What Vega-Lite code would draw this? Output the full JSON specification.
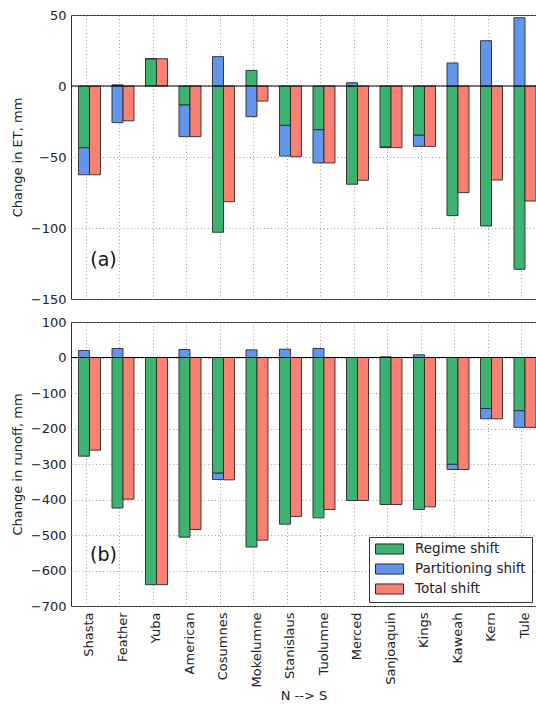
{
  "$schema": "https://vega.github.io/schema/vega-lite/v6.json",
  "padding": {"left": 10, "top": 8, "right": 0, "bottom": 0},
  "config": {
    "font": "DejaVu Sans",
    "view": {"stroke": "#333", "strokeWidth": 1},
    "axis": {
      "labelFont": "DejaVu Sans",
      "labelFontSize": 13,
      "labelColor": "#222",
      "titleFont": "DejaVu Sans",
      "titleFontSize": 13,
      "titleFontWeight": "normal",
      "titleColor": "#222",
      "gridColor": "#888",
      "gridDash": [1, 2.5],
      "gridWidth": 0.8,
      "domain": false,
      "ticks": false,
      "labelFlush": false,
      "labelOverlap": false
    },
    "concat": {"spacing": 8}
  },
  "datasets": {
    "shifts": [
      {"panel": "ET", "basin": "Shasta", "series": "Regime shift", "group": "decomposition", "value": -43.5},
      {"panel": "ET", "basin": "Shasta", "series": "Partitioning shift", "group": "decomposition", "value": -19},
      {"panel": "ET", "basin": "Shasta", "series": "Total shift", "group": "total", "value": -62.5},
      {"panel": "ET", "basin": "Feather", "series": "Regime shift", "group": "decomposition", "value": 0.8},
      {"panel": "ET", "basin": "Feather", "series": "Partitioning shift", "group": "decomposition", "value": -25.8},
      {"panel": "ET", "basin": "Feather", "series": "Total shift", "group": "total", "value": -24.5},
      {"panel": "ET", "basin": "Yuba", "series": "Regime shift", "group": "decomposition", "value": 19.2},
      {"panel": "ET", "basin": "Yuba", "series": "Partitioning shift", "group": "decomposition", "value": 0},
      {"panel": "ET", "basin": "Yuba", "series": "Total shift", "group": "total", "value": 19.2},
      {"panel": "ET", "basin": "American", "series": "Regime shift", "group": "decomposition", "value": -13.4},
      {"panel": "ET", "basin": "American", "series": "Partitioning shift", "group": "decomposition", "value": -22.3},
      {"panel": "ET", "basin": "American", "series": "Total shift", "group": "total", "value": -35.7},
      {"panel": "ET", "basin": "Cosumnes", "series": "Regime shift", "group": "decomposition", "value": -103},
      {"panel": "ET", "basin": "Cosumnes", "series": "Partitioning shift", "group": "decomposition", "value": 20.7},
      {"panel": "ET", "basin": "Cosumnes", "series": "Total shift", "group": "total", "value": -81.5},
      {"panel": "ET", "basin": "Mokelumne", "series": "Regime shift", "group": "decomposition", "value": 11},
      {"panel": "ET", "basin": "Mokelumne", "series": "Partitioning shift", "group": "decomposition", "value": -21.6},
      {"panel": "ET", "basin": "Mokelumne", "series": "Total shift", "group": "total", "value": -10.6},
      {"panel": "ET", "basin": "Stanislaus", "series": "Regime shift", "group": "decomposition", "value": -27.7},
      {"panel": "ET", "basin": "Stanislaus", "series": "Partitioning shift", "group": "decomposition", "value": -21.6},
      {"panel": "ET", "basin": "Stanislaus", "series": "Total shift", "group": "total", "value": -49.8},
      {"panel": "ET", "basin": "Tuolumne", "series": "Regime shift", "group": "decomposition", "value": -30.8},
      {"panel": "ET", "basin": "Tuolumne", "series": "Partitioning shift", "group": "decomposition", "value": -23.4},
      {"panel": "ET", "basin": "Tuolumne", "series": "Total shift", "group": "total", "value": -54.2},
      {"panel": "ET", "basin": "Merced", "series": "Regime shift", "group": "decomposition", "value": -69.2},
      {"panel": "ET", "basin": "Merced", "series": "Partitioning shift", "group": "decomposition", "value": 2.3},
      {"panel": "ET", "basin": "Merced", "series": "Total shift", "group": "total", "value": -66.4},
      {"panel": "ET", "basin": "Sanjoaquin", "series": "Regime shift", "group": "decomposition", "value": -43},
      {"panel": "ET", "basin": "Sanjoaquin", "series": "Partitioning shift", "group": "decomposition", "value": -0.4},
      {"panel": "ET", "basin": "Sanjoaquin", "series": "Total shift", "group": "total", "value": -43.4},
      {"panel": "ET", "basin": "Kings", "series": "Regime shift", "group": "decomposition", "value": -34.7},
      {"panel": "ET", "basin": "Kings", "series": "Partitioning shift", "group": "decomposition", "value": -7.8},
      {"panel": "ET", "basin": "Kings", "series": "Total shift", "group": "total", "value": -42.5},
      {"panel": "ET", "basin": "Kaweah", "series": "Regime shift", "group": "decomposition", "value": -91.3},
      {"panel": "ET", "basin": "Kaweah", "series": "Partitioning shift", "group": "decomposition", "value": 16.2},
      {"panel": "ET", "basin": "Kaweah", "series": "Total shift", "group": "total", "value": -75.1},
      {"panel": "ET", "basin": "Kern", "series": "Regime shift", "group": "decomposition", "value": -98.6},
      {"panel": "ET", "basin": "Kern", "series": "Partitioning shift", "group": "decomposition", "value": 31.9},
      {"panel": "ET", "basin": "Kern", "series": "Total shift", "group": "total", "value": -66.2},
      {"panel": "ET", "basin": "Tule", "series": "Regime shift", "group": "decomposition", "value": -129.1},
      {"panel": "ET", "basin": "Tule", "series": "Partitioning shift", "group": "decomposition", "value": 48.1},
      {"panel": "ET", "basin": "Tule", "series": "Total shift", "group": "total", "value": -81},
      {"panel": "Runoff", "basin": "Shasta", "series": "Regime shift", "group": "decomposition", "value": -278},
      {"panel": "Runoff", "basin": "Shasta", "series": "Partitioning shift", "group": "decomposition", "value": 19.7},
      {"panel": "Runoff", "basin": "Shasta", "series": "Total shift", "group": "total", "value": -261},
      {"panel": "Runoff", "basin": "Feather", "series": "Regime shift", "group": "decomposition", "value": -424},
      {"panel": "Runoff", "basin": "Feather", "series": "Partitioning shift", "group": "decomposition", "value": 25.4},
      {"panel": "Runoff", "basin": "Feather", "series": "Total shift", "group": "total", "value": -399},
      {"panel": "Runoff", "basin": "Yuba", "series": "Regime shift", "group": "decomposition", "value": -640},
      {"panel": "Runoff", "basin": "Yuba", "series": "Partitioning shift", "group": "decomposition", "value": 0},
      {"panel": "Runoff", "basin": "Yuba", "series": "Total shift", "group": "total", "value": -640},
      {"panel": "Runoff", "basin": "American", "series": "Regime shift", "group": "decomposition", "value": -506},
      {"panel": "Runoff", "basin": "American", "series": "Partitioning shift", "group": "decomposition", "value": 22.5},
      {"panel": "Runoff", "basin": "American", "series": "Total shift", "group": "total", "value": -484.5},
      {"panel": "Runoff", "basin": "Cosumnes", "series": "Regime shift", "group": "decomposition", "value": -326},
      {"panel": "Runoff", "basin": "Cosumnes", "series": "Partitioning shift", "group": "decomposition", "value": -17.8},
      {"panel": "Runoff", "basin": "Cosumnes", "series": "Total shift", "group": "total", "value": -344.6},
      {"panel": "Runoff", "basin": "Mokelumne", "series": "Regime shift", "group": "decomposition", "value": -534},
      {"panel": "Runoff", "basin": "Mokelumne", "series": "Partitioning shift", "group": "decomposition", "value": 21.6},
      {"panel": "Runoff", "basin": "Mokelumne", "series": "Total shift", "group": "total", "value": -514.5},
      {"panel": "Runoff", "basin": "Stanislaus", "series": "Regime shift", "group": "decomposition", "value": -469.5},
      {"panel": "Runoff", "basin": "Stanislaus", "series": "Partitioning shift", "group": "decomposition", "value": 23.5},
      {"panel": "Runoff", "basin": "Stanislaus", "series": "Total shift", "group": "total", "value": -448},
      {"panel": "Runoff", "basin": "Tuolumne", "series": "Regime shift", "group": "decomposition", "value": -451.6},
      {"panel": "Runoff", "basin": "Tuolumne", "series": "Partitioning shift", "group": "decomposition", "value": 25.4},
      {"panel": "Runoff", "basin": "Tuolumne", "series": "Total shift", "group": "total", "value": -428},
      {"panel": "Runoff", "basin": "Merced", "series": "Regime shift", "group": "decomposition", "value": -402.8},
      {"panel": "Runoff", "basin": "Merced", "series": "Partitioning shift", "group": "decomposition", "value": 0},
      {"panel": "Runoff", "basin": "Merced", "series": "Total shift", "group": "total", "value": -402.8},
      {"panel": "Runoff", "basin": "Sanjoaquin", "series": "Regime shift", "group": "decomposition", "value": -414},
      {"panel": "Runoff", "basin": "Sanjoaquin", "series": "Partitioning shift", "group": "decomposition", "value": 2},
      {"panel": "Runoff", "basin": "Sanjoaquin", "series": "Total shift", "group": "total", "value": -414},
      {"panel": "Runoff", "basin": "Kings", "series": "Regime shift", "group": "decomposition", "value": -428},
      {"panel": "Runoff", "basin": "Kings", "series": "Partitioning shift", "group": "decomposition", "value": 7.5},
      {"panel": "Runoff", "basin": "Kings", "series": "Total shift", "group": "total", "value": -420.7},
      {"panel": "Runoff", "basin": "Kaweah", "series": "Regime shift", "group": "decomposition", "value": -301},
      {"panel": "Runoff", "basin": "Kaweah", "series": "Partitioning shift", "group": "decomposition", "value": -14.5},
      {"panel": "Runoff", "basin": "Kaweah", "series": "Total shift", "group": "total", "value": -315.5},
      {"panel": "Runoff", "basin": "Kern", "series": "Regime shift", "group": "decomposition", "value": -143.7},
      {"panel": "Runoff", "basin": "Kern", "series": "Partitioning shift", "group": "decomposition", "value": -29},
      {"panel": "Runoff", "basin": "Kern", "series": "Total shift", "group": "total", "value": -172.8},
      {"panel": "Runoff", "basin": "Tule", "series": "Regime shift", "group": "decomposition", "value": -150},
      {"panel": "Runoff", "basin": "Tule", "series": "Partitioning shift", "group": "decomposition", "value": -47},
      {"panel": "Runoff", "basin": "Tule", "series": "Total shift", "group": "total", "value": -197}
    ]
  },
  "resolve": {"scale": {"color": "independent"}, "legend": {"color": "independent"}},
  "vconcat": [
    {
      "width": 465,
      "height": 284,
      "layer": [
        {
          "data": {"name": "shifts"},
          "transform": [{"filter": "datum.panel == 'ET' && datum.group == 'decomposition'"}],
          "mark": {"type": "bar", "stroke": "#2a2a2a", "strokeWidth": 0.9},
          "encoding": {
            "x": {
              "field": "basin", "type": "nominal",
              "scale": {"domain": ["Shasta", "Feather", "Yuba", "American", "Cosumnes", "Mokelumne", "Stanislaus", "Tuolumne", "Merced", "Sanjoaquin", "Kings", "Kaweah", "Kern", "Tule"], "paddingInner": 0.343, "paddingOuter": 0.1117, "align": 1},
              "axis": {"labels": false, "title": null, "grid": true, "bandPosition": 0.36, "labelPadding": 0, "ticks": false, "domain": false}
            },
            "xOffset": {"field": "group", "type": "nominal", "scale": {"domain": ["decomposition", "total"], "paddingInner": 0, "paddingOuter": 0}},
            "y": {
              "field": "value", "type": "quantitative", "stack": "zero",
              "scale": {"domain": [-150, 50], "nice": false},
              "axis": {"values": [-150, -100, -50, 0, 50], "title": "Change in ET, mm", "grid": true, "labelPadding": 5, "titlePadding": 6, "labelOverlap": false}
            },
            "color": {
              "field": "series", "type": "nominal",
              "scale": {"domain": ["Regime shift", "Partitioning shift", "Total shift"], "range": ["#3cb371", "#6495ed", "#fa8072"]},
              "legend": null
            },
            "order": {"field": "series", "sort": "descending"}
          }
        },
        {
          "data": {"name": "shifts"},
          "transform": [{"filter": "datum.panel == 'ET' && datum.group == 'total'"}],
          "mark": {"type": "bar", "stroke": "#2a2a2a", "strokeWidth": 0.9},
          "encoding": {
            "x": {
              "field": "basin", "type": "nominal",
              "scale": {"domain": ["Shasta", "Feather", "Yuba", "American", "Cosumnes", "Mokelumne", "Stanislaus", "Tuolumne", "Merced", "Sanjoaquin", "Kings", "Kaweah", "Kern", "Tule"], "paddingInner": 0.343, "paddingOuter": 0.1117, "align": 1},
              "axis": {"labels": false, "title": null, "grid": true, "bandPosition": 0.36, "labelPadding": 0, "ticks": false, "domain": false}
            },
            "xOffset": {"field": "group", "type": "nominal", "scale": {"domain": ["decomposition", "total"], "paddingInner": 0, "paddingOuter": 0}},
            "y": {
              "field": "value", "type": "quantitative", "stack": "zero",
              "scale": {"domain": [-150, 50], "nice": false},
              "axis": {"values": [-150, -100, -50, 0, 50], "title": "Change in ET, mm", "grid": true, "labelPadding": 5, "titlePadding": 6, "labelOverlap": false}
            },
            "color": {
              "field": "series", "type": "nominal",
              "scale": {"domain": ["Regime shift", "Partitioning shift", "Total shift"], "range": ["#3cb371", "#6495ed", "#fa8072"]},
              "legend": null
            }
          }
        },
        {
          "data": {"values": [{"value": 0}]},
          "mark": {"type": "rule", "color": "black", "strokeWidth": 1},
          "encoding": {
            "y": {
              "field": "value", "type": "quantitative",
              "scale": {"domain": [-150, 50], "nice": false},
              "axis": {"values": [-150, -100, -50, 0, 50], "title": "Change in ET, mm", "grid": true, "labelPadding": 5, "titlePadding": 6, "labelOverlap": false}
            }
          }
        },
        {
          "data": {"values": [{"label": "(a)", "basin": "Shasta", "value": -122.5}]},
          "mark": {"type": "text", "fontSize": 19, "align": "center", "baseline": "middle", "dx": 3, "color": "#111"},
          "encoding": {
            "x": {
              "field": "basin", "type": "nominal", "bandPosition": 1,
              "scale": {"domain": ["Shasta", "Feather", "Yuba", "American", "Cosumnes", "Mokelumne", "Stanislaus", "Tuolumne", "Merced", "Sanjoaquin", "Kings", "Kaweah", "Kern", "Tule"], "paddingInner": 0.343, "paddingOuter": 0.1117, "align": 1},
              "axis": {"labels": false, "title": null, "grid": true, "bandPosition": 0.36, "labelPadding": 0, "ticks": false, "domain": false}
            },
            "y": {
              "field": "value", "type": "quantitative",
              "scale": {"domain": [-150, 50], "nice": false},
              "axis": {"values": [-150, -100, -50, 0, 50], "title": "Change in ET, mm", "grid": true, "labelPadding": 5, "titlePadding": 6, "labelOverlap": false}
            },
            "text": {"field": "label"}
          }
        }
      ]
    },
    {
      "width": 465,
      "height": 284,
      "layer": [
        {
          "data": {"name": "shifts"},
          "transform": [{"filter": "datum.panel == 'Runoff' && datum.group == 'decomposition'"}],
          "mark": {"type": "bar", "stroke": "#2a2a2a", "strokeWidth": 0.9},
          "encoding": {
            "x": {
              "field": "basin", "type": "nominal",
              "scale": {"domain": ["Shasta", "Feather", "Yuba", "American", "Cosumnes", "Mokelumne", "Stanislaus", "Tuolumne", "Merced", "Sanjoaquin", "Kings", "Kaweah", "Kern", "Tule"], "paddingInner": 0.343, "paddingOuter": 0.1117, "align": 1},
              "axis": {"title": "N --> S", "grid": true, "bandPosition": 0.36, "labelAngle": -90, "labelPadding": 6, "titlePadding": 3}
            },
            "xOffset": {"field": "group", "type": "nominal", "scale": {"domain": ["decomposition", "total"], "paddingInner": 0, "paddingOuter": 0}},
            "y": {
              "field": "value", "type": "quantitative", "stack": "zero",
              "scale": {"domain": [-700, 100], "nice": false},
              "axis": {"values": [-700, -600, -500, -400, -300, -200, -100, 0, 100], "title": "Change in runoff, mm", "grid": true, "labelPadding": 5, "titlePadding": 6, "labelOverlap": false}
            },
            "color": {
              "field": "series", "type": "nominal",
              "scale": {"domain": ["Regime shift", "Partitioning shift", "Total shift"], "range": ["#3cb371", "#6495ed", "#fa8072"]},
              "legend": {
                "orient": "none", "legendX": 298, "legendY": 215, "title": null,
                "symbolType": "M-1,-0.36L1,-0.36L1,0.36L-1,0.36Z", "symbolSize": 784,
                "symbolStrokeColor": "#2a2a2a", "symbolStrokeWidth": 1,
                "labelFont": "DejaVu Sans", "labelFontSize": 13.5, "labelColor": "#222", "labelOffset": 11,
                "strokeColor": "#333", "fillColor": "white", "padding": 6,
                "clipHeight": 12, "rowPadding": 6
              }
            },
            "order": {"field": "series", "sort": "descending"}
          }
        },
        {
          "data": {"name": "shifts"},
          "transform": [{"filter": "datum.panel == 'Runoff' && datum.group == 'total'"}],
          "mark": {"type": "bar", "stroke": "#2a2a2a", "strokeWidth": 0.9},
          "encoding": {
            "x": {
              "field": "basin", "type": "nominal",
              "scale": {"domain": ["Shasta", "Feather", "Yuba", "American", "Cosumnes", "Mokelumne", "Stanislaus", "Tuolumne", "Merced", "Sanjoaquin", "Kings", "Kaweah", "Kern", "Tule"], "paddingInner": 0.343, "paddingOuter": 0.1117, "align": 1},
              "axis": {"title": "N --> S", "grid": true, "bandPosition": 0.36, "labelAngle": -90, "labelPadding": 6, "titlePadding": 3}
            },
            "xOffset": {"field": "group", "type": "nominal", "scale": {"domain": ["decomposition", "total"], "paddingInner": 0, "paddingOuter": 0}},
            "y": {
              "field": "value", "type": "quantitative", "stack": "zero",
              "scale": {"domain": [-700, 100], "nice": false},
              "axis": {"values": [-700, -600, -500, -400, -300, -200, -100, 0, 100], "title": "Change in runoff, mm", "grid": true, "labelPadding": 5, "titlePadding": 6, "labelOverlap": false}
            },
            "color": {
              "field": "series", "type": "nominal",
              "scale": {"domain": ["Regime shift", "Partitioning shift", "Total shift"], "range": ["#3cb371", "#6495ed", "#fa8072"]}
            }
          }
        },
        {
          "data": {"values": [{"value": 0}]},
          "mark": {"type": "rule", "color": "black", "strokeWidth": 1},
          "encoding": {
            "y": {
              "field": "value", "type": "quantitative",
              "scale": {"domain": [-700, 100], "nice": false},
              "axis": {"values": [-700, -600, -500, -400, -300, -200, -100, 0, 100], "title": "Change in runoff, mm", "grid": true, "labelPadding": 5, "titlePadding": 6, "labelOverlap": false}
            }
          }
        },
        {
          "data": {"values": [{"label": "(b)", "basin": "Shasta", "value": -555}]},
          "mark": {"type": "text", "fontSize": 19, "align": "center", "baseline": "middle", "dx": 3, "color": "#111"},
          "encoding": {
            "x": {
              "field": "basin", "type": "nominal", "bandPosition": 1,
              "scale": {"domain": ["Shasta", "Feather", "Yuba", "American", "Cosumnes", "Mokelumne", "Stanislaus", "Tuolumne", "Merced", "Sanjoaquin", "Kings", "Kaweah", "Kern", "Tule"], "paddingInner": 0.343, "paddingOuter": 0.1117, "align": 1},
              "axis": {"title": "N --> S", "grid": true, "bandPosition": 0.36, "labelAngle": -90, "labelPadding": 6, "titlePadding": 3}
            },
            "y": {
              "field": "value", "type": "quantitative",
              "scale": {"domain": [-700, 100], "nice": false},
              "axis": {"values": [-700, -600, -500, -400, -300, -200, -100, 0, 100], "title": "Change in runoff, mm", "grid": true, "labelPadding": 5, "titlePadding": 6, "labelOverlap": false}
            },
            "text": {"field": "label"}
          }
        }
      ]
    }
  ]
}
